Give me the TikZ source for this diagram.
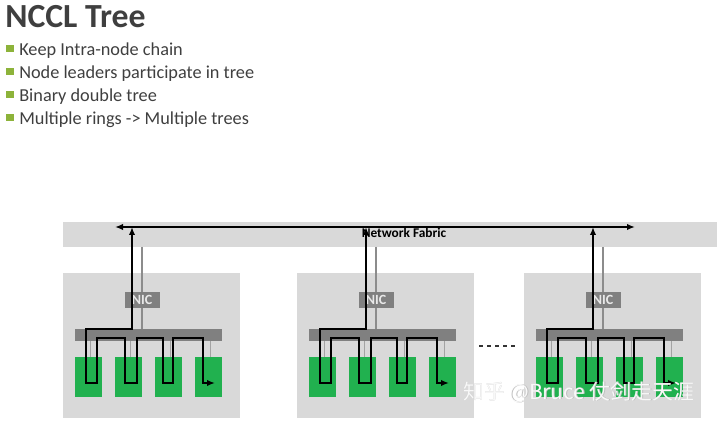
\documentclass[tikz,border=0pt]{standalone}
\usepackage{fontspec}
\setmainfont{Carlito}
\newfontfamily\cjk{Noto Sans CJK SC}
\usepackage{tikz}
\usetikzlibrary{arrows.meta,positioning,calc}
\definecolor{Ink}{HTML}{3F3F3F}
\definecolor{Leaf}{HTML}{8DB33A}
\definecolor{Panel}{HTML}{D9D9D9}
\definecolor{Switch}{HTML}{808080}
\definecolor{Wire}{HTML}{8C8C8C}
\definecolor{Gpu}{HTML}{21B14F}

\begin{document}
\begin{tikzpicture}[
  x=0.25mm,y=-0.25mm,
  panel/.style={fill=Panel,inner sep=0pt,outer sep=0pt,anchor=north west},
  server/.style={panel,minimum width=44.25mm,minimum height=36.25mm},
  nicbox/.style={fill=Switch,inner sep=0pt,outer sep=0pt,minimum width=8.75mm,minimum height=4mm,text=Panel!60!white,font=\bfseries\fontsize{10}{10}\selectfont},
  busbar/.style={fill=Switch,inner sep=0pt,outer sep=0pt,anchor=north west,minimum width=36.75mm,minimum height=3mm},
  gpubox/.style={fill=Gpu,inner sep=0pt,outer sep=0pt,anchor=north west,minimum width=6.75mm,minimum height=10mm},
  link/.style={draw=Wire,line width=1.4pt},
  stub/.style={draw=Wire!80,line width=1.2pt},
  chain/.style={{Latex[length=2mm,width=1.6mm]}-{Latex[length=2mm,width=1.6mm]},line width=1.5pt,draw=black},
  bullet/.style={fill=Leaf,minimum size=1.75mm,inner sep=0pt},
  item/.style={anchor=base west,text=Ink,font=\fontsize{13}{15}\selectfont,inner sep=0pt}
]
\useasboundingbox (0,0) rectangle (720,425);

% heading and bullets
\node[anchor=base west,inner sep=0pt,text=Ink,font=\bfseries\fontsize{24}{26}\selectfont] (title) at (5,28) {NCCL Tree};
\foreach \t [count=\k] in {Keep Intra-node chain,Node leaders participate in tree,Binary double tree,Multiple rings -> Multiple trees} {
  \node[item] (item\k) at (19,{56+22.7*(\k-1)}) {\t};
  \node[bullet] (dot\k) at (10,{49+22.7*(\k-1)}) {};
}

% network fabric
\node[panel,minimum width=163.5mm,minimum height=6.25mm] (fabric) at (63,222) {};
\node[font=\bfseries\fontsize{9.5}{10}\selectfont,inner sep=0pt] (fablabel) at (404,233) {Network Fabric};

% servers
\foreach \s/\o in {1/0,2/234,3/461} {
  \node[server] (srv\s) at ({63+\o},273) {};
  \node[nicbox] (nic\s) at ({142+\o},300) {NIC};
  \node[busbar] (bus\s) at ({75+\o},329) {};
  \foreach \g in {1,...,4}
    \node[gpubox] (gpu\s-\g) at ({35+40*\g+\o},357) {};
  \draw[link] (nic\s.north |- fabric.south) -- (nic\s.north);
  \draw[link] (nic\s.south) -- (nic\s.south |- bus\s.north);
  \foreach \g in {1,...,4}
    \draw[stub] ($(gpu\s-\g.north)+(2,0)$) -- ($(gpu\s-\g.north |- bus\s.south)+(2,0)$);
}

\coordinate (fabL) at (115,227);
\coordinate (fabR) at (635,227);
\draw[chain] (fabL) -- (fabR);

% intra-node chains
\foreach \s/\o in {1/0,2/234,3/461} {
  \coordinate (up\s) at ({132+\o},227);
  \draw[chain] (up\s) -- ++(0,102) -- ++(-46,0) -- ++(0,54) -- ++(11,0) -- ++(0,-45)
    -- ++(28,0) -- ++(0,45) -- ++(12,0) -- ++(0,-45) -- ++(26,0) -- ++(0,45)
    -- ++(10,0) -- ++(0,-45) -- ++(30,0) -- ++(0,45) -- ++(12,0);
}

\coordinate (gapL) at (479,346);
\coordinate (gapR) at (518,346);
\draw[black!80,line width=0.8pt,dash pattern=on 1.1mm off 0.9mm] (gapL) -- (gapR);

% watermark
\node[anchor=west,inner sep=0pt,text=black!25,font=\cjk\fontsize{14.8}{15}\selectfont] (markshade) at (463.6,392.6) {知乎 @Bruce 仗剑走天涯};
\node[anchor=west,inner sep=0pt,text=white,opacity=0.9,font=\cjk\fontsize{14.8}{15}\selectfont] (mark) at (463,392) {知乎 @Bruce 仗剑走天涯};
\end{tikzpicture}
\end{document}
